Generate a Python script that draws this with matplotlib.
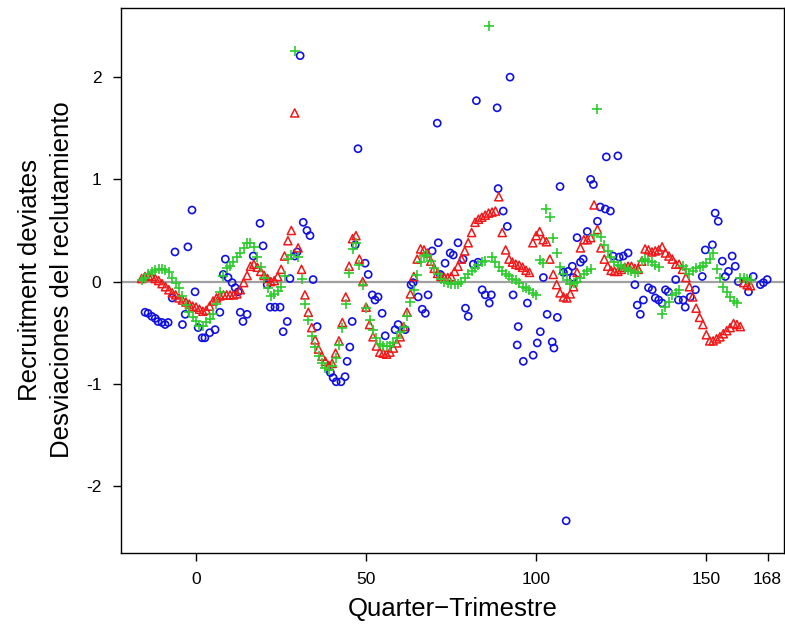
import matplotlib
matplotlib.use("Agg")
import matplotlib.pyplot as plt

plt.rcParams['font.family'] = ['Liberation Sans', 'DejaVu Sans']

# red triangles, one per quarter from -16
red_x = list(range(-16, 164))
red_y = [0.03, 0.05, 0.06, 0.05, 0.03, 0.01, -0.02, -0.05, -0.08, -0.11,
         -0.13, -0.16, -0.18, -0.20, -0.22, -0.24, -0.25, -0.27, -0.29, -0.28,
         -0.24, -0.19, -0.16, -0.14, -0.13, -0.13, -0.13, -0.13, -0.12, -0.08,
         -0.01, 0.06, 0.15, 0.17, 0.14, 0.10, 0.06, 0.03, 0.00, 0.01,
         0.05, 0.12, 0.25, 0.40, 0.50, 1.65, 0.33, 0.12, -0.13, -0.30,
         -0.45, -0.57, -0.66, -0.73, -0.78, -0.82, -0.80, -0.70, -0.58, -0.40,
         -0.15, 0.15, 0.42, 0.45, 0.22, 0.00, -0.25, -0.42, -0.54, -0.63,
         -0.69, -0.70, -0.71, -0.69, -0.65, -0.60, -0.54, -0.44, -0.30, -0.12,
         0.05, 0.22, 0.32, 0.31, 0.28, 0.20, 0.13, 0.08, 0.05, 0.04,
         0.04, 0.05, 0.10, 0.15, 0.22, 0.30, 0.38, 0.48, 0.58, 0.61,
         0.63, 0.65, 0.67, 0.68, 0.69, 0.83, 0.48, 0.31, 0.22, 0.19,
         0.17, 0.16, 0.14, 0.11, 0.09, 0.38, 0.45, 0.49, 0.41, 0.39,
         0.22, 0.07, -0.03, -0.11, -0.15, -0.16, -0.12, -0.05, 0.09, 0.33,
         0.41, 0.41, 0.43, 0.75, 0.51, 0.33, 0.22, 0.15, 0.11, 0.10,
         0.10, 0.12, 0.14, 0.15, 0.15, 0.13, 0.12, 0.20, 0.32, 0.31,
         0.29, 0.30, 0.31, 0.34, 0.28, 0.25, 0.22, 0.17, 0.17, 0.12,
         0.04, -0.05, -0.15, -0.26, -0.35, -0.42, -0.52, -0.58, -0.58, -0.56,
         -0.54, -0.51, -0.48, -0.45, -0.41, -0.42, -0.44, -0.01, -0.03, -0.04]

# green plus, one per quarter from -16
green_x = list(range(-16, 164))
green_y = [0.02, 0.04, 0.07, 0.09, 0.11, 0.12, 0.12, 0.11, 0.09, 0.04,
           -0.01, -0.06, -0.14, -0.23, -0.30, -0.35, -0.39, -0.43, -0.43, -0.40,
           -0.37, -0.32, -0.22, -0.10, 0.05, 0.13, 0.15, 0.19, 0.24, 0.28,
           0.33, 0.38, 0.38, 0.34, 0.24, 0.14, 0.04, -0.06, -0.14, -0.12,
           -0.09, -0.05, 0.05, 0.22, 0.26, 2.26, 0.24, 0.03, -0.22, -0.38,
           -0.53, -0.64, -0.73, -0.80, -0.85, -0.86, -0.83, -0.75, -0.62, -0.45,
           -0.22, 0.08, 0.32, 0.38, 0.16, -0.03, -0.26, -0.38, -0.47, -0.55,
           -0.61, -0.63, -0.63, -0.63, -0.60, -0.55, -0.49, -0.44, -0.34, -0.20,
           -0.08, 0.06, 0.19, 0.25, 0.26, 0.20, 0.13, 0.07, 0.03, 0.00,
           -0.01, -0.02, -0.02, -0.02, 0.00, 0.04, 0.07, 0.10, 0.13, 0.16,
           0.19, 0.20, 2.50, 0.24, 0.19, 0.14, 0.10, 0.07, 0.05, 0.03,
           0.02, -0.01, -0.05, -0.06, -0.08, -0.11, -0.13, 0.21, 0.18, 0.71,
           0.63, 0.43, 0.28, 0.14, 0.07, 0.02, -0.02, -0.01, 0.00, 0.04,
           0.07, 0.10, 0.12, 0.46, 1.69, 0.44, 0.36, 0.30, 0.24, 0.19,
           0.16, 0.15, 0.13, 0.11, 0.10, 0.08, 0.09, 0.20, 0.22, 0.20,
           0.19, 0.16, 0.14, -0.32, -0.25, -0.20, -0.13, -0.11, -0.08, 0.15,
           0.12, 0.07, 0.10, 0.13, 0.14, 0.15, 0.18, 0.22, 0.28, 0.12,
           0.04, -0.05, -0.10, -0.15, -0.19, -0.21, 0.04, 0.04, 0.03, 0.02]

# blue circles
blue_x = [-15, -14.1, -13, -12, -11.2, -10, -9.1, -8.2, -7, -6.2,
          -4, -3.2, -2.4, -1.2, -0.3, 0.6, 1.8, 2.6, 4, 5.6,
          7, 8, 8.6, 9.4, 10.6, 11.5, 12.4, 13, 13.8, 15,
          16.8, 18.8, 19.7, 20.9, 21.8, 23.2, 24.7, 25.6, 26.8, 27.6,
          29, 29.7, 30.6, 31.5, 32.6, 33.5, 34.4, 35.6, 39.5, 40.3,
          41.2, 42.6, 43.8, 44.4, 45.2, 45.9, 46.8, 47.6, 49.7, 50.6,
          51.8, 52.6, 53.5, 54.7, 55.6, 58.5, 59.4, 61.5, 63.2, 63.8,
          65.3, 66.5, 67.4, 68.2, 69.4, 70.9, 71.2, 71.8, 73.2, 74.7,
          75.6, 77, 78.5, 79.2, 80, 81.5, 82.4, 82.9, 84.1, 85,
          86.2, 86.8, 88.5, 88.8, 90.3, 91.5, 92.3, 93.2, 94.4, 94.7,
          96.2, 97.4, 99.1, 100.3, 101.2, 102.1, 103.2, 104.7, 105.2, 106.2,
          107, 108, 108.8, 109.4, 110.6, 110.9, 112, 113, 113.8, 115,
          116, 116.8, 118, 118.8, 120.3, 120.6, 121.8, 124, 122.6, 124.4,
          125.6, 127, 129, 129.7, 130.6, 131.5, 133, 134.1, 135, 136,
          137, 138, 138.8, 141, 141.8, 143.2, 143.8, 145.3, 146.8, 148.8,
          149.7, 151.8, 152.6, 153.5, 154.7, 155.6, 156.5, 157.6, 158.5, 159.4,
          162.4, 163.8, 165.9, 166.8, 167.9]
blue_y = [-0.30, -0.31, -0.34, -0.36, -0.39, -0.40, -0.42, -0.40, -0.16, 0.29,
          -0.42, -0.32, 0.34, 0.70, -0.10, -0.45, -0.55, -0.55, -0.50, -0.47,
          -0.30, 0.07, 0.22, 0.04, -0.01, -0.06, -0.10, -0.30, -0.39, -0.32,
          0.25, 0.57, 0.35, -0.03, -0.25, -0.25, -0.25, -0.49, -0.39, 0.03,
          0.25, 0.29, 2.21, 0.58, 0.50, 0.45, 0.02, -0.44, -0.89, -0.94,
          -0.98, -0.98, -0.93, -0.78, -0.64, -0.39, 0.36, 1.30, 0.18, 0.07,
          -0.13, -0.18, -0.15, -0.31, -0.53, -0.47, -0.42, -0.47, -0.03, -0.01,
          -0.15, -0.27, -0.31, -0.13, 0.30, 1.55, 0.38, 0.07, 0.18, 0.28,
          0.26, 0.38, 0.22, -0.26, -0.34, 0.17, 1.77, 0.19, -0.08, -0.13,
          -0.21, -0.13, 1.70, 0.91, 0.69, 0.54, 2.00, -0.13, -0.62, -0.44,
          -0.78, -0.21, -0.72, -0.60, -0.49, 0.04, -0.32, -0.59, -0.65, -0.35,
          0.93, 0.09, -2.34, 0.10, 0.15, 0.04, 0.43, 0.19, 0.22, 0.49,
          1.00, 0.95, 0.59, 0.73, 0.71, 1.22, 0.69, 1.23, 0.25, 0.24,
          0.25, 0.28, -0.03, -0.23, -0.32, -0.18, -0.06, -0.08, -0.16, -0.18,
          -0.21, -0.08, -0.10, 0.02, -0.18, -0.18, -0.25, -0.15, -0.08, 0.05,
          0.31, 0.36, 0.67, 0.59, 0.20, 0.05, 0.10, 0.25, 0.15, 0.00,
          -0.10, 0.05, -0.03, -0.01, 0.02]

x_ticks = [0, 50, 100, 150, 168]
y_ticks = [-2, -1, 0, 1, 2]

fig = plt.figure(figsize=(7.85, 6.27), dpi=100)
ax = fig.add_axes([0.154, 0.118, 0.845, 0.869])

ax.axhline(0, color='#a0a0a0', lw=1.6, zorder=1)

ax.scatter(blue_x, blue_y, s=26, facecolors='none', edgecolors='#1010e0',
           linewidths=1.2, marker='o', zorder=3)
ax.scatter(red_x, red_y, s=34, facecolors='none', edgecolors='#f01818',
           linewidths=1.1, marker='^', zorder=3)
ax.scatter(green_x, green_y, s=46, color='#2ccc2c', linewidths=1.2,
           marker='+', zorder=3)

ax.set_xlim(-22.1, 172.9)
ax.set_ylim(-2.655, 2.675)
ax.set_xticks(x_ticks)
ax.set_yticks(y_ticks)
ax.set_yticklabels(['-2', '-1', '0', '1', '2'])
ax.tick_params(direction='out', length=6, width=1, labelsize=12.5, pad=8)

for s in ax.spines.values():
    s.set_linewidth(1.0)

ax.set_xlabel('Quarter\u2212Trimestre', fontsize=18.5, labelpad=7)
fig.text(30 / 785, 1 - 280 / 627, 'Recruitment deviates', rotation=90,
         ha='center', va='center', fontsize=18.5)
fig.text(62 / 785, 1 - 280 / 627, 'Desviaciones del reclutamiento',
         rotation=90, ha='center', va='center', fontsize=18.5)

fig.savefig('out.png', dpi=100)
